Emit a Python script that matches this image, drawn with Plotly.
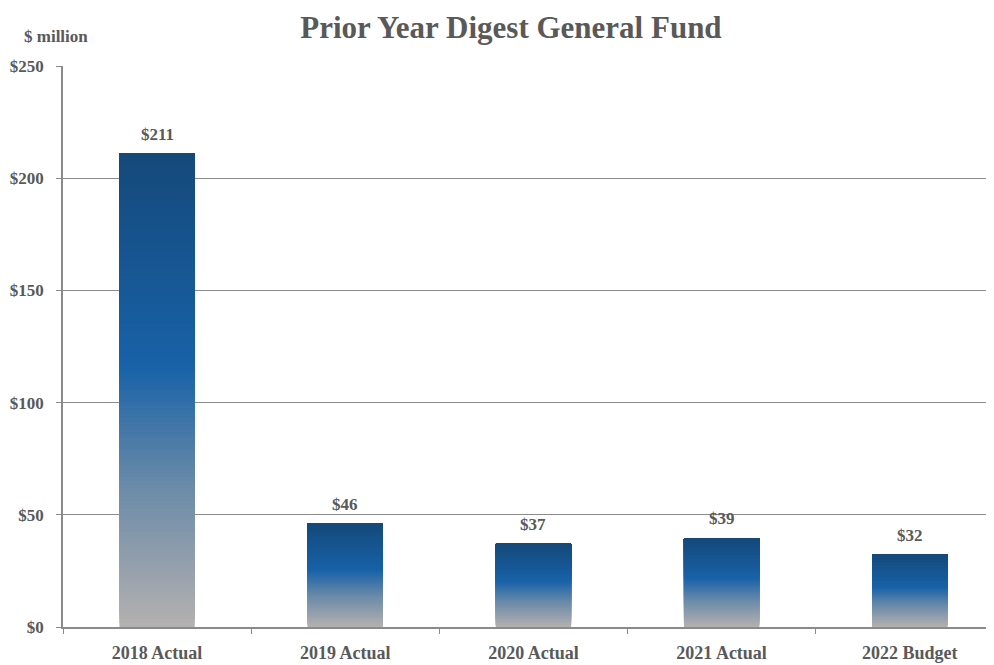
import plotly.graph_objects as go

categories = ["2018 Actual", "2019 Actual", "2020 Actual", "2021 Actual", "2022 Budget"]
values = [211, 46, 37, 39.5, 32.3]
labels = ["$211", "$46", "$37", "$39", "$32"]
y_ticks = [0, 50, 100, 150, 200, 250]
y_ticklabels = ["$0", "$50", "$100", "$150", "$200", "$250"]

# gradient stops (fraction of bar height from bottom, rgb)
stops = [(0.0, (180, 177, 176)), (0.30, (106, 138, 168)), (0.55, (24, 98, 168)), (1.0, (21, 73, 122))]

def color_at(f):
    for (f0, c0), (f1, c1) in zip(stops[:-1], stops[1:]):
        if f <= f1:
            t = (f - f0) / (f1 - f0)
            return "rgb(%d,%d,%d)" % tuple(round(a + (b - a) * t) for a, b in zip(c0, c1))
    return "rgb(%d,%d,%d)" % stops[-1][1]

FONT = "Liberation Serif"
TXT = "#595959"
N = 120

fig = go.Figure()
for k in range(N):
    frac = k / N
    fig.add_trace(go.Bar(
        x=categories,
        y=[v * (1 - frac) for v in values],
        base=[v * frac for v in values],
        width=0.4,
        marker=dict(color=color_at((k + 0.5) / N), line=dict(width=0)),
        hoverinfo="skip",
        showlegend=False,
    ))

for c, v, t in zip(categories, values, labels):
    fig.add_annotation(x=c, y=v, text="<b>%s</b>" % t, showarrow=False,
                       yanchor="bottom", yshift=8,
                       font=dict(family=FONT, size=17, color=TXT))

fig.add_annotation(xref="paper", yref="paper", x=-0.044, y=1.0517, xanchor="left",
                   yanchor="middle", text="<b>$ million</b>", showarrow=False,
                   font=dict(family=FONT, size=17, color=TXT))

fig.update_layout(
    width=994, height=665,
    barmode="overlay",
    paper_bgcolor="white", plot_bgcolor="white",
    margin=dict(l=55, r=0, t=58, b=46, autoexpand=False),
    title=dict(text="<b>Prior Year Digest General Fund</b>", x=0.506, xanchor="center",
               xref="container", yref="container",
               y=0.9715, yanchor="middle",
               font=dict(family=FONT, size=31, color=TXT)),
)
fig.update_xaxes(
    type="category", range=[-0.5, 4.49],
    tickson="boundaries", ticks="outside", ticklen=5, tickcolor="#8a8a8a",
    ticklabelstandoff=9,
    showline=True, linecolor="#8a8a8a", linewidth=1.5, showgrid=False,
    tickfont=dict(family=FONT, size=18, color=TXT),
    tickvals=categories, ticktext=["<b>%s</b>" % c for c in categories],
)
fig.update_yaxes(
    range=[0, 250], tickvals=y_ticks, ticktext=["<b>%s</b>" % s for s in y_ticklabels],
    ticks="outside", ticklen=5, tickcolor="#8a8a8a", ticklabelstandoff=9,
    showline=True, linecolor="#8a8a8a", linewidth=1.5,
    showgrid=True, gridcolor="#8c8c8c", gridwidth=1, zeroline=False,
    tickfont=dict(family=FONT, size=17, color=TXT),
)

fig.write_html("out.html")
